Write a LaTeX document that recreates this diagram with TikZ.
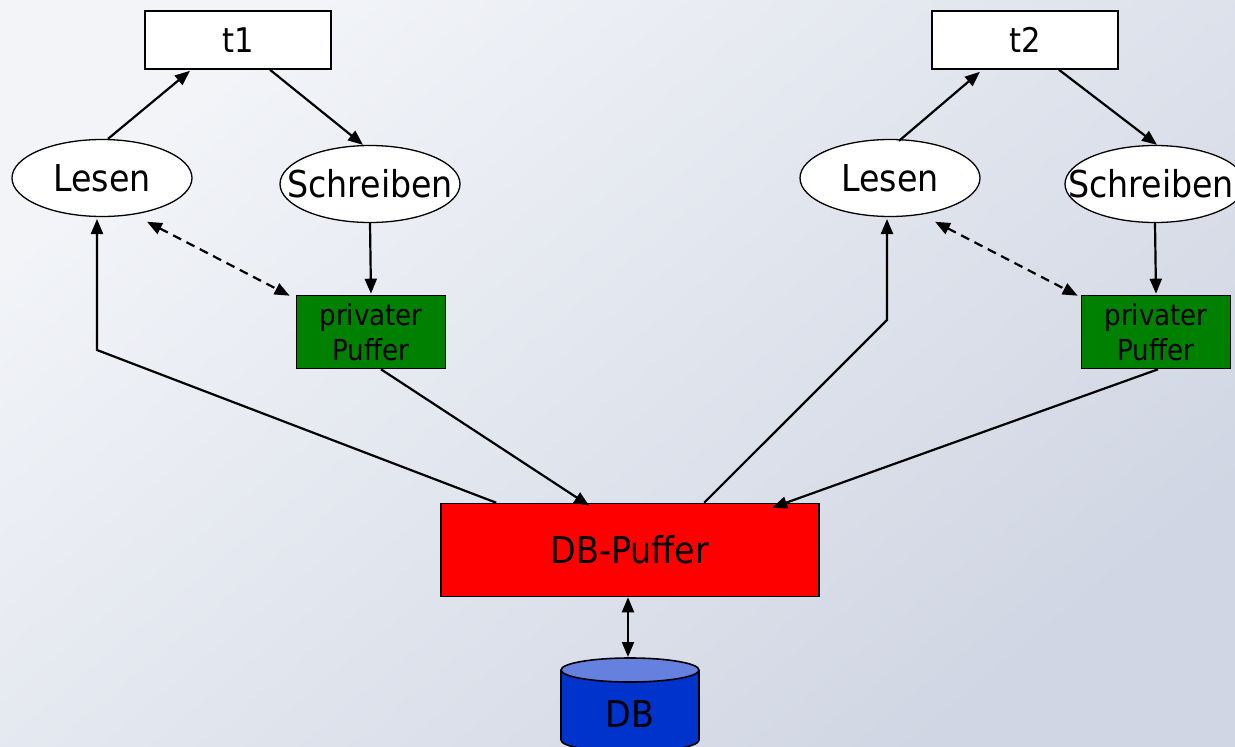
\documentclass[tikz,border=0pt]{standalone}
\usepackage{fontspec}
\setmainfont{DejaVu Sans Condensed}
\usetikzlibrary{arrows.meta,shapes.geometric}
\definecolor{bgA}{RGB}{242,244,248}
\definecolor{bgB}{RGB}{208,214,227}
\definecolor{privgreen}{RGB}{0,128,0}
\definecolor{dbred}{RGB}{255,0,0}
\definecolor{dbblue}{RGB}{0,51,204}
\definecolor{dbtop}{RGB}{102,128,224}
\begin{document}
\begin{tikzpicture}[x=1pt,y=-1pt,
  tbox/.style={draw,line width=1.6pt,fill=white,minimum width=186pt,minimum height=58pt,inner sep=0pt,font=\fontsize{34}{38}\selectfont},
  oval/.style={draw,ellipse,line width=1.3pt,fill=white,minimum width=180pt,minimum height=77pt,inner sep=0pt,font=\fontsize{37}{40}\selectfont},
  priv/.style={draw,line width=1.6pt,fill=privgreen,minimum width=149pt,minimum height=73pt,inner sep=0pt,align=center,font=\fontsize{29}{35}\selectfont},
  conn/.style={line width=2.2pt,-{Triangle[length=15pt,width=12pt]}},
  dconn/.style={line width=2.2pt,dash pattern=on 9pt off 6pt,{Triangle[length=15pt,width=12pt]}-{Triangle[length=15pt,width=12pt]}},
  bconn/.style={line width=2.2pt,{Triangle[length=15pt,width=12pt]}-{Triangle[length=15pt,width=12pt]}},
  cyl/.style={line width=1.6pt}
]
\useasboundingbox (0,0) rectangle (1235,747);
\shade[top color=bgA,bottom color=bgB,shading angle=40] (0,0) rectangle (1235,747);

% nodes
\node[tbox] (t1) at (238,40) {t1};
\node[tbox] (t2) at (1025,40) {t2};
\node[oval] (l1) at (102,178) {\makebox[0pt]{Lesen}};
\node[oval] (s1) at (370,184) {\makebox[0pt]{Schreiben}};
\node[oval] (l2) at (890,178) {\makebox[0pt]{Lesen}};
\node[oval] (s2) at (1155,184) {\makebox[0pt]{\hspace*{-8pt}Schreiben}};
\node[priv] (p1) at (371,332) {privater\\Puffer};
\node[priv] (p2) at (1156,332) {privater\\Puffer};
\node[draw,line width=1.6pt,fill=dbred,minimum width=378pt,minimum height=93pt,inner sep=0pt,font=\fontsize{37}{40}\selectfont] (dbp) at (630,550) {DB-Puffer};

% DB cylinder
\path[cyl,fill=dbblue,draw] (561,670) -- (561,740) arc[start angle=180,end angle=360,x radius=69pt,y radius=12pt] -- (699,670);
\draw[cyl,fill=dbtop] (630,670) ellipse [x radius=69pt,y radius=12pt];
\coordinate (dbtopc) at (628,657);
\node[font=\fontsize{37}{40}\selectfont] (db) at (630,714) {DB};

% left transaction
\draw[conn] ([xshift=6pt]l1.north) -- ([xshift=-48pt,yshift=-1pt]t1.south);
\draw[conn] ([xshift=32pt]t1.south) -- ([xshift=-7pt]s1.north);
\draw[conn] (s1.south) -- ([yshift=1pt]p1.north);
\draw[dconn] ([xshift=8pt,yshift=-8pt]l1.-44) -- ([xshift=-6pt,yshift=-1pt]p1.north west);
\draw[conn] ([xshift=56pt]dbp.north west) -- (97,350) -- (97,219);
\draw[conn] ([xshift=10pt]p1.south) -- ([xshift=149pt,yshift=-3pt]dbp.north west);

% right transaction
\draw[conn] ([xshift=9pt,yshift=-2pt]l2.north) -- ([xshift=-45pt,yshift=-2pt]t2.south);
\draw[conn] ([xshift=34pt]t2.south) -- ([xshift=2pt]s2.north);
\draw[conn] (s2.south) -- ([yshift=1pt]p2.north);
\draw[dconn] ([xshift=8pt,yshift=-8pt]l2.-44) -- ([xshift=-3pt,yshift=-1pt]p2.north west);
\draw[conn] ([xshift=264pt]dbp.north west) -- (887,320) -- (887,219);
\draw[conn] ([xshift=2pt]p2.south) -- ([xshift=332pt,yshift=-5pt]dbp.north west);

% DB link
\draw[bconn] ([xshift=-2pt]dbp.south) -- (dbtopc);
\end{tikzpicture}
\end{document}
